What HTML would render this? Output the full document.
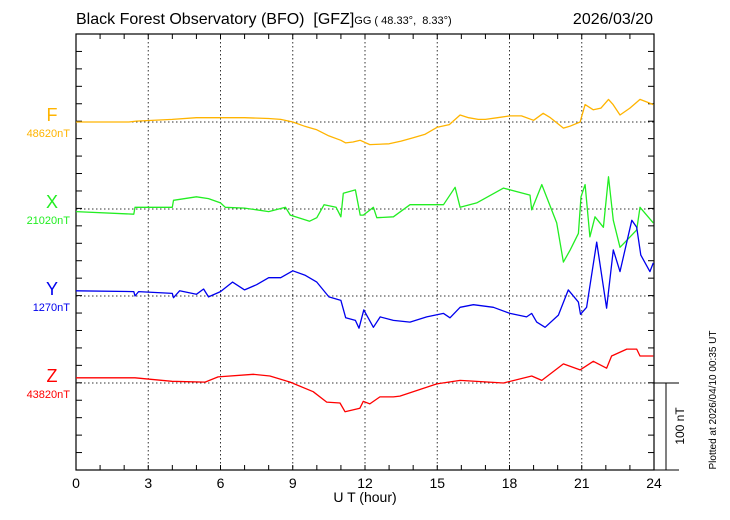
<!DOCTYPE html>
<html><head><meta charset="utf-8"><style>
body{margin:0;background:#fff;width:730px;height:520px;overflow:hidden}
svg{display:block;font-family:"Liberation Sans",sans-serif}
text{white-space:pre}
</style></head><body>
<svg id="chart" width="730" height="520">
<g id="grid"></g>
<g id="axes"></g>
<g id="series"></g>
<text x="76" y="24" font-size="16" xml:space="preserve">Black Forest Observatory (BFO)  [GFZ]<tspan font-size="11">GG ( 48.33°,  8.33°)</tspan></text>
<text x="653" y="24" font-size="16" text-anchor="end">2026/03/20</text>
<text x="365" y="502" font-size="14" text-anchor="middle">U T (hour)</text>
<text transform="translate(716,400) rotate(-90)" font-size="10" text-anchor="middle">Plotted at 2026/04/10 00:35 UT</text>
<text transform="translate(684,426) rotate(-90)" font-size="12" text-anchor="middle">100 nT</text>
</svg>
<script>
const hourTicks=[0,3,6,9,12,15,18,21,24];
const compNames=['F','X','Y','Z'];
const baseLabels=['48620nT','21020nT','1270nT','43820nT'];
const fT=[0,2.2,2.5,4,5,6,7,8,8.5,9,9.5,10,10.5,11,11.2,11.5,11.8,12.2,13,13.5,14,14.5,15,15.5,15.95,16.3,16.7,17,17.5,18,18.5,19,19.4,19.7,20.24,20.5,20.93,21.14,21.48,21.8,22.11,22.3,22.59,23,23.42,23.7,23.97];
const fV=[0,0,1,3,5,5,5,4,3,0,-5,-9,-16,-21,-24,-23,-21,-26,-25,-22,-18,-14,-6,-3,8,5,3,3,5,7,7,2,10,5,-7,-5,0,20,14,16,26,20,8,16,26,23,20];
const xT=[0,2.4,2.45,4,4.05,5,5.5,6,6.2,7,8,8.7,8.9,9.7,10,10.3,10.8,11,11.1,11.6,11.8,11.93,12.35,12.49,13.18,13.87,15.26,15.74,15.95,16.64,17.75,18.85,18.92,19.34,19.96,20.24,20.52,20.86,20.97,21.14,21.34,21.55,21.9,22.11,22.31,22.59,22.87,23.28,23.42,23.97];
const xV=[-3,-6,2,2,10,14,12,7,2,1,-3,2,-7,-14,-10,5,2,-9,18,22,-7,-7,2,-10,-9,5,5,25,2,7,24,16,-1,28,-16,-61,-47,-28,14,28,-32,-9,-21,37,-13,-44,-36,-24,2,-16];
const yT=[0,2.4,2.45,2.6,4,4.05,4.3,5,5.3,5.5,6,6.5,7,7.5,8,8.5,9,9.5,10,10.5,11,11.2,11.6,11.75,11.95,12.35,12.63,13.18,13.87,14.56,15.26,15.53,15.95,16.5,17.33,18.02,18.71,18.92,19.13,19.48,20.03,20.44,20.86,20.95,21.2,21.62,22.03,22.31,22.59,23.08,23.28,23.45,23.83,23.97];
const yV=[6,5,0,5,3,-2,6,2,8,-1,5,16,7,13,21,21,29,24,16,-1,-5,-25,-28,-37,-16,-36,-24,-28,-30,-24,-20,-25,-13,-10,-13,-20,-24,-20,-30,-36,-22,7,-7,-21,-13,62,-14,53,28,87,79,47,28,38];
const zT=[0,2.45,3.98,5.36,5.9,7.36,8.05,8.89,9.85,10.41,10.96,11.17,11.79,11.93,12.2,12.62,13.18,13.45,14.98,15.95,17.75,18.92,19.34,20.24,20.93,21.48,22.03,22.24,22.87,23.28,23.42,23.97];
const zV=[6,6,2,1,7,10,8,1,-10,-22,-23,-33,-29,-21,-24,-16,-16,-15,-1,3,0,8,3,22,15,25,17,31,39,39,31,31];

const NS='http://www.w3.org/2000/svg';
const X0=76,X1=654,YT=34,YB=470,PXNT=0.87;
const baseY=[122,209,296,383];
const colors=['#ffb400','#22ee22','#0000ee','#ff0000'];
const sx=h=>X0+(X1-X0)*h/24;
const sy=(i,v)=>baseY[i]-v*PXNT;
function mk(tag,attrs,parent){const e=document.createElementNS(NS,tag);for(const k in attrs)e.setAttribute(k,attrs[k]);parent.appendChild(e);return e;}
const grid=document.getElementById('grid'),axes=document.getElementById('axes'),ser=document.getElementById('series');
hourTicks.forEach(h=>{
  if(h>0&&h<24){const l=mk('line',{x1:sx(h),x2:sx(h),y1:YT,y2:YB,stroke:'#333','stroke-dasharray':'1.5,2.5'},grid);
  
  }
  const t=mk('text',{x:sx(h),y:488,'font-size':14,'text-anchor':'middle'},axes);t.textContent=h;
  
  
});
baseY.forEach((y,i)=>{
  const l=mk('line',{x1:X0,x2:X1,y1:y,y2:y,stroke:'#333','stroke-dasharray':'1.5,2.5'},grid);
  
  
  const n=mk('text',{x:52,y:y-1,'font-size':18,'text-anchor':'middle',fill:colors[i]},axes);n.textContent=compNames[i];
  
  
  const b=mk('text',{x:70,y:y+15,'font-size':11,'text-anchor':'end',fill:colors[i]},axes);b.textContent=baseLabels[i];
  
  
});
for(let h=0;h<=24;h++){mk('line',{x1:sx(h),x2:sx(h),y1:YB,y2:YB-5,stroke:'#000'},axes);mk('line',{x1:sx(h),x2:sx(h),y1:YT,y2:YT+5,stroke:'#000'},axes);}
for(let k=0;k<=25;k++){const y=YB-k*17.44;mk('line',{x1:X0,x2:X0+6,y1:y,y2:y,stroke:'#000'},axes);mk('line',{x1:X1-6,x2:X1,y1:y,y2:y,stroke:'#000'},axes);}
mk('rect',{x:X0,y:YT,width:X1-X0,height:YB-YT,fill:'none',stroke:'#000','stroke-width':1.2},axes);
mk('line',{x1:X1,x2:679,y1:YB,y2:YB,stroke:'#000'},axes);
mk('line',{x1:X1,x2:679,y1:383,y2:383,stroke:'#000'},axes);
const sb=mk('line',{x1:666,x2:666,y1:383,y2:YB,stroke:'#000'},axes);


[[fT,fV],[xT,xV],[yT,yV],[zT,zV]].forEach((s,i)=>{
  const d=s[0].map((h,j)=>(j?'L':'M')+sx(h).toFixed(1)+','+sy(i,s[1][j]).toFixed(1)).join('');
  const p=mk('path',{d:d,fill:'none',stroke:colors[i],'stroke-width':1.3,'stroke-linejoin':'round'},ser);
  
  
});
</script>
</body></html>
